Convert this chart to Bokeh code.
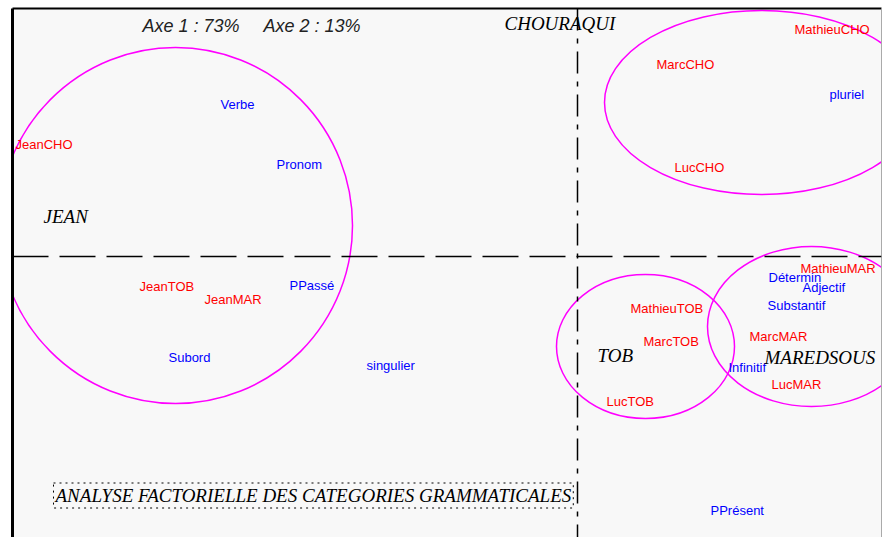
from bokeh.plotting import figure
from bokeh.models import Span, Label, LinearAxis, FixedTicker
from bokeh.core.properties import value
from bokeh.embed import file_html
from bokeh.resources import INLINE

# Factor scores (axis 1, axis 2)
red_labels = ["JeanCHO", "JeanTOB", "JeanMAR", "MathieuCHO", "MarcCHO", "LucCHO",
              "MathieuTOB", "MarcTOB", "LucTOB", "MathieuMAR", "MarcMAR", "LucMAR"]
red_x = [-5.62, -4.38, -3.73, 2.17, 0.79, 0.97, 0.53, 0.66, 0.29, 2.23, 1.72, 1.94]
red_y = [1.12, -0.30, -0.43, 2.27, 1.92, 0.89, -0.52, -0.85, -1.45, -0.12, -0.80, -1.28]

blue_labels = ["Verbe", "Pronom", "PPassé", "Subord", "singulier", "pluriel",
               "Détermin", "Adjectif", "Substantif", "Infinitif", "PPrésent"]
blue_x = [-3.57, -3.01, -2.88, -4.09, -2.11, 2.52, 1.91, 2.25, 1.90, 1.51, 1.33]
blue_y = [1.52, 0.92, -0.29, -1.01, -1.09, 1.62, -0.21, -0.31, -0.49, -1.11, -2.54]

group_labels = ["JEAN", "CHOURAQUI", "TOB", "MAREDSOUS"]
group_x = [-5.34, -0.73, 0.20, 1.87]
group_y = [0.40, 2.33, -0.99, -1.01]

ell_x = [-4.02, 1.84, 0.68, 2.34]
ell_y = [0.31, 1.54, -0.90, -0.70]
ell_w = [3.54, 3.14, 1.78, 2.08]
ell_h = [3.56, 1.84, 1.44, 1.60]

inertia_labels = ["Axe 1 : 73%", "Axe 2 : 13%"]
inertia_x = [-4.35, -3.14]
inertia_y = [2.31, 2.31]

title_text = "ANALYSE FACTORIELLE DES CATEGORIES GRAMMATICALES"
title_x, title_y = -5.24, -2.39

p = figure(width=882, height=537, x_range=(-5.65, 3.04), y_range=(-2.81, 2.48),
           output_backend="svg", toolbar_location=None,
           x_axis_location="above", y_axis_location="left",
           background_fill_color="#f8f8f8", border_fill_color="white",
           outline_line_color=None, min_border=0,
           min_border_left=12, min_border_top=8, min_border_right=1)
p.grid.visible = False

right_axis = LinearAxis()
p.add_layout(right_axis, "right")
for ax in p.axis:
    ax.ticker = FixedTicker(ticks=[])
    ax.major_label_text_font_size = "0px"
    ax.major_tick_line_color = None
    ax.minor_tick_line_color = None
    ax.major_tick_out = 0
    ax.minor_tick_out = 0
    ax.major_label_standoff = 0
    ax.axis_line_color = "black"
p.yaxis[0].axis_line_width = 3
p.xaxis[0].axis_line_width = 2
right_axis.axis_line_color = "#aaaaaa"
right_axis.axis_line_width = 1

p.add_layout(Span(location=0, dimension="width", line_color="black",
                  line_width=1.5, line_dash="36 11"))
p.add_layout(Span(location=0, dimension="height", line_color="black",
                  line_width=1.5, line_dash="22 8 5 8"))

p.ellipse(x=ell_x, y=ell_y, width=ell_w, height=ell_h, fill_color=None,
          line_color="#ff00ff", line_width=1.5)

p.text(x=red_x, y=red_y, text=red_labels, text_color="#ff0000",
       text_font=value("Liberation Sans"), text_font_size="13px",
       text_align="left", text_baseline="middle")
p.text(x=blue_x, y=blue_y, text=blue_labels, text_color="#0000ff",
       text_font=value("Liberation Sans"), text_font_size="13px",
       text_align="left", text_baseline="middle")
p.text(x=group_x, y=group_y, text=group_labels, text_color="black",
       text_font=value("Liberation Serif"), text_font_style="italic",
       text_font_size="19px", text_align="left", text_baseline="middle")
p.text(x=inertia_x, y=inertia_y, text=inertia_labels, text_color="#222222",
       text_font=value("Liberation Sans"), text_font_style="italic",
       text_font_size="18px", text_align="left", text_baseline="middle")

p.add_layout(Label(x=title_x, y=title_y, text=title_text,
                   text_font="Liberation Serif", text_font_style="italic",
                   text_font_size="19px", text_color="black",
                   text_align="left", text_baseline="middle",
                   border_line_color="black", border_line_dash="dotted",
                   border_line_width=1, padding=2))

open("out.html", "w").write(file_html(p, INLINE))
